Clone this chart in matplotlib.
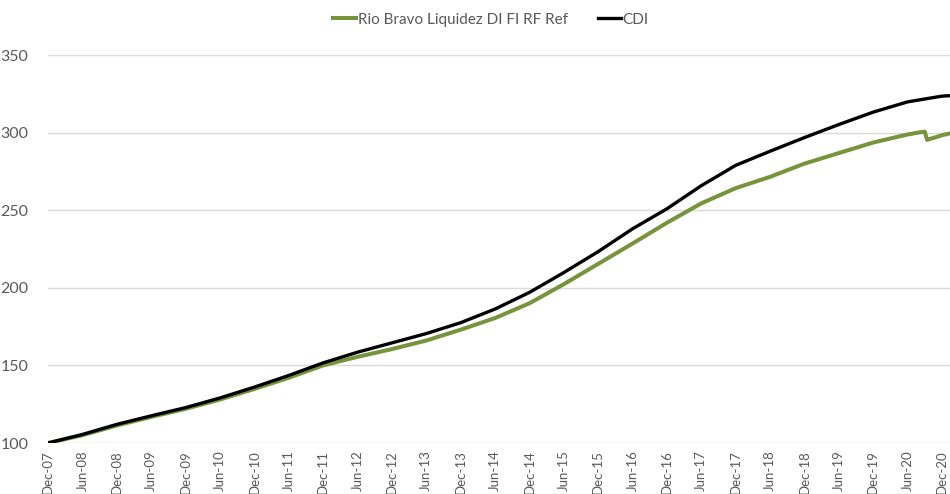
import matplotlib
matplotlib.use("Agg")
import matplotlib.pyplot as plt

# ---------------------------------------------------------------------------
# Data (index, base 100 at Dec-07); x = months since Dec-07
# ---------------------------------------------------------------------------
cdi_months = [0, 6, 12, 18, 24, 30, 36, 42, 48, 54, 60, 66, 72, 78, 84, 90,
              96, 102, 108, 114, 120, 126, 132, 138, 144, 150, 156, 157.4]
cdi_values = [100, 105.5, 112, 117.5, 122.8, 129, 136, 143.5, 151.6, 158.5,
              164.5, 170.5, 177.5, 186.3, 197, 209.8, 223.3, 238, 250.9,
              265.8, 278.9, 288, 296.8, 305.2, 313.2, 319.8, 323.5, 323.8]

fund_months = [0, 6, 12, 18, 24, 30, 36, 42, 48, 54, 60, 66, 72, 78, 84, 90,
               96, 102, 108, 114, 120, 126, 132, 138, 144, 150, 152.5, 153.0,
               153.4, 154.2, 155.1, 156, 157.4]
fund_values = [100, 105, 111.3, 116.8, 122, 128, 134.8, 142, 150, 155.5,
               160.5, 166, 173, 180.5, 190, 202.3, 215.4, 228.5, 241.9,
               254.4, 264.2, 271.5, 280, 286.8, 293.6, 298.8, 300.4, 300.6,
               295.3, 296.3, 297.2, 298.3, 299.5]

tick_months = list(range(0, 157, 6))
tick_labels = []
for y in range(7, 21):
    if y > 7:
        tick_labels.append("Jun-%02d" % y)
    tick_labels.append("Dec-%02d" % y)

y_ticks = [100, 150, 200, 250, 300, 350]

GREEN = "#77933C"
TEXT = "#595959"
GRID = "#D9D9D9"
FONT = "Lato"

# ---------------------------------------------------------------------------
# Figure
# ---------------------------------------------------------------------------
fig = plt.figure(figsize=(9.5, 4.94), dpi=100)
ax = fig.add_axes([48 / 950, 1 - 443 / 494, 902 / 950, (443 - 55) / 494])

ax.plot(fund_months, fund_values, color=GREEN, lw=2.9,
        label="Rio Bravo Liquidez DI FI RF Ref", solid_joinstyle="round",
        zorder=3)
ax.plot(cdi_months, cdi_values, color="black", lw=2.4, label="CDI",
        solid_joinstyle="round", zorder=4)

ax.set_xlim(0, 157.4)
ax.set_ylim(100, 350)
ax.set_yticks(y_ticks)
ax.set_yticklabels([str(v) for v in y_ticks], fontsize=11.5, color=TEXT,
                   family=FONT)
ax.set_xticks(tick_months)
ax.set_xticklabels(tick_labels, rotation=90, fontsize=9.5, color=TEXT,
                   family=FONT)
ax.tick_params(axis="both", length=0)
ax.tick_params(axis="y", pad=14)
ax.tick_params(axis="x", pad=5)

ax.grid(axis="y", color=GRID, lw=1)
ax.set_axisbelow(True)
for s in ax.spines.values():
    s.set_visible(False)

leg = ax.legend(loc="upper center", bbox_to_anchor=(0.5 - 8 / 902, 1 + 56 / 388),
                ncol=2, frameon=False, handlelength=1.5, handletextpad=0.1,
                columnspacing=2.0, prop={"family": FONT, "size": 11})
for t in leg.get_texts():
    t.set_color(TEXT)

fig.savefig("out.png", dpi=100)
